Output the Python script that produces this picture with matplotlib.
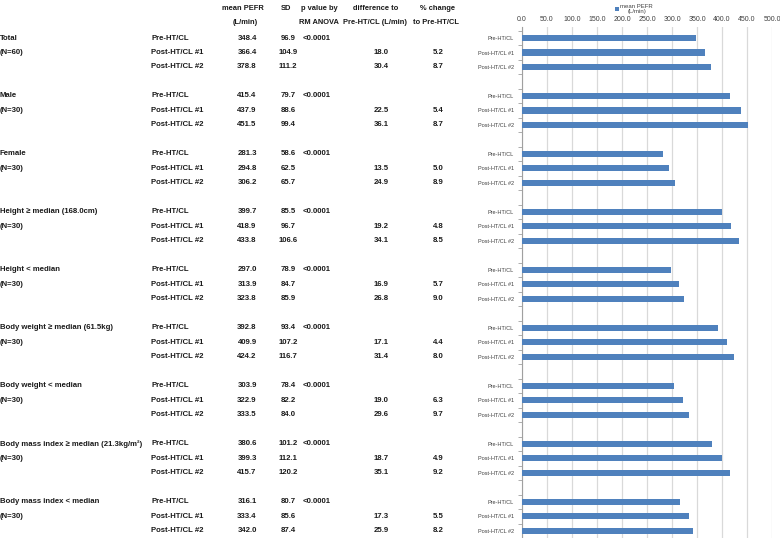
import matplotlib
matplotlib.use("Agg")
import matplotlib.pyplot as plt
import matplotlib.transforms as mtransforms
import numpy as np

plt.rcParams['font.family'] = ['Liberation Sans', 'DejaVu Sans']

groups = ["Total", "Male", "Female", "Height \u2265 median (168.0cm)", "Height < median",
          "Body weight \u2265 median (61.5kg)", "Body weight < median",
          "Body mass index \u2265 median (21.3kg/m\u00b2)", "Body mass index < median"]
group_n = ["(N=60)", "(N=30)", "(N=30)", "(N=30)", "(N=30)", "(N=30)", "(N=30)", "(N=30)", "(N=30)"]
conditions = ["Pre-HT/CL", "Post-HT/CL #1", "Post-HT/CL #2"]
mean_pefr = [[348.4, 366.4, 378.8], [415.4, 437.9, 451.5], [281.3, 294.8, 306.2],
             [399.7, 418.9, 433.8], [297.0, 313.9, 323.8], [392.8, 409.9, 424.2],
             [303.9, 322.9, 333.5], [380.6, 399.3, 415.7], [316.1, 333.4, 342.0]]
sd = [[96.9, 104.9, 111.2], [79.7, 88.6, 99.4], [58.6, 62.5, 65.7],
      [85.5, 96.7, 106.6], [78.9, 84.7, 85.9], [93.4, 107.2, 116.7],
      [78.4, 82.2, 84.0], [101.2, 112.1, 120.2], [80.7, 85.6, 87.4]]
p_values = ["<0.0001"] * 9
diff_to_pre = [[18.0, 30.4], [22.5, 36.1], [13.5, 24.9], [19.2, 34.1], [16.9, 26.8],
               [17.1, 31.4], [19.0, 29.6], [18.7, 35.1], [17.3, 25.9]]
pct_change = [[5.2, 8.7], [5.4, 8.7], [5.0, 8.9], [4.8, 8.5], [5.7, 9.0],
              [4.4, 8.0], [6.3, 9.7], [4.9, 9.2], [5.5, 8.2]]
x_ticks = [0, 50, 100, 150, 200, 250, 300, 350, 400, 450, 500]

W, H = 780, 538
fig = plt.figure(figsize=(W / 100, H / 100), dpi=100)
ax = fig.add_axes([522 / W, 0, 250 / W, 1 - 27 / H])

bar_color = "#4F81BD"
grid_color = "#D9D9D9"

# slot positions: 3 bars per group + one blank slot between groups
ypos, vals, labels = [], [], []
for g in range(len(groups)):
    for r in range(3):
        ypos.append(4 * g + r)
        vals.append(mean_pefr[g][r])
        labels.append(conditions[r])

ax.barh(ypos, vals, height=0.42, color=bar_color, label="mean PEFR\n(L/min)", zorder=3)
ax.set_ylim(34.48, -0.76)
ax.set_xlim(0, 500)
ax.set_xticks(x_ticks)
ax.set_xticklabels(["%.1f" % v for v in x_ticks])
ax.xaxis.tick_top()
ax.tick_params(axis='x', length=0, labelsize=5, labelcolor="#404040", pad=3)
ax.set_yticks(ypos)
ax.set_yticklabels(labels)
ax.tick_params(axis='y', which='major', length=0, labelsize=4.0, labelcolor="#404040", pad=6)
ax.set_yticks(np.arange(-0.5, 35, 1), minor=True)
ax.tick_params(axis='y', which='minor', length=3, color="#A0A0A0", width=0.6)
ax.grid(axis='x', color=grid_color, lw=0.9, zorder=0)
for s in ['top', 'right', 'bottom']:
    ax.spines[s].set_visible(False)
ax.spines['left'].set_color("#A0A0A0")
ax.spines['left'].set_linewidth(0.8)

leg = ax.legend(loc='upper center', bbox_to_anchor=(634 / W, 1.0), bbox_transform=fig.transFigure,
                frameon=False, fontsize=4.3, handlelength=0.6, handleheight=0.6, handletextpad=0.3,
                borderpad=0.1, labelcolor="#404040")
leg.get_texts()[0].set_multialignment('center')

# table on the left, rows aligned with the bars
tr = mtransforms.blended_transform_factory(fig.transFigure, ax.transData)
tkw = dict(fontsize=5.6, fontweight='bold', color="#1a1a1a", va='center', transform=tr)


def px(x):
    return x / W


# header
hkw = dict(fontsize=5.4, fontweight='bold', color="#1a1a1a", va='center', ha='center')
fig.text(px(243), 1 - 9 / H, "mean PEFR", **hkw)
fig.text(px(245), 1 - 22 / H, "(L/min)", **hkw)
fig.text(px(286), 1 - 9 / H, "SD", **hkw)
fig.text(px(319), 1 - 9 / H, "p value by", **hkw)
fig.text(px(319), 1 - 22 / H, "RM ANOVA", **hkw)
fig.text(px(376), 1 - 9 / H, "difference to", **hkw)
fig.text(px(375), 1 - 22 / H, "Pre-HT/CL (L/min)", **hkw)
fig.text(px(437), 1 - 9 / H, "% change", **hkw)
fig.text(px(436), 1 - 22 / H, "to Pre-HT/CL", **hkw)

for g in range(len(groups)):
    y0 = 4 * g
    ax.text(px(0), y0, groups[g], ha='left', **tkw)
    ax.text(px(0), y0 + 1, group_n[g], ha='left', **tkw)
    ax.text(px(303), y0, p_values[g], ha='left', **tkw)
    for r in range(3):
        ax.text(px(151), y0 + r, conditions[r], ha='left', **tkw)
        ax.text(px(247), y0 + r, "%.1f" % mean_pefr[g][r], ha='center', **tkw)
        ax.text(px(288), y0 + r, "%.1f" % sd[g][r], ha='center', **tkw)
        if r > 0:
            ax.text(px(381), y0 + r, "%.1f" % diff_to_pre[g][r - 1], ha='center', **tkw)
            ax.text(px(438), y0 + r, "%.1f" % pct_change[g][r - 1], ha='center', **tkw)

fig.savefig("out.png", dpi=100)
